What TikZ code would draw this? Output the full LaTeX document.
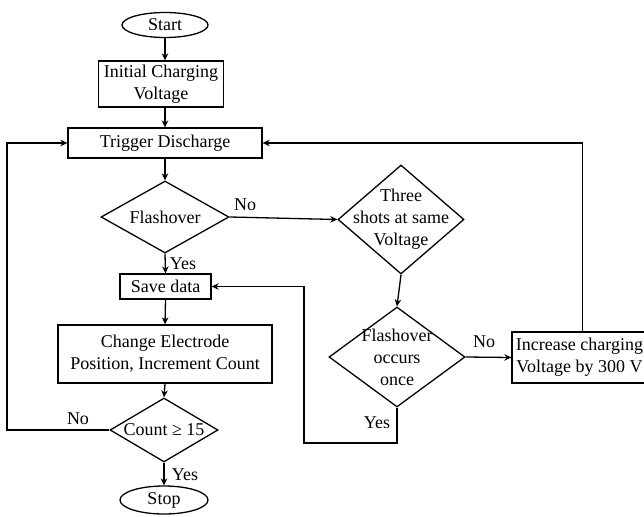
\documentclass[tikz,border=0pt]{standalone}
\usepackage{fontspec}
\setmainfont{Liberation Serif}
\usetikzlibrary{shapes.geometric,arrows.meta}
\begin{document}
\begin{tikzpicture}[x=1pt,y=-1pt, line width=1.3pt,
  every node/.style={font=\fontsize{18}{22}\selectfont, inner sep=0pt},
  boxn/.style={draw, rectangle, align=center},
  term/.style={draw, ellipse},
  dia/.style={draw, diamond},
  lbl/.style={align=center},
  arr/.style={-{Stealth[length=7pt,width=6.5pt]}}]
\clip (0,0) rectangle (644,516);
% nodes
\node[term, minimum width=86pt, minimum height=25pt] (start) at (165,25) {Start};
\node[boxn, minimum width=125pt, minimum height=46pt] (init) at (161,84) {Initial Charging\\Voltage};
\node[boxn, minimum width=194pt, minimum height=30pt] (trig) at (165,143) {Trigger Discharge};
\node[dia, minimum width=128pt, minimum height=72pt] (flash) at (165,217) {};
\node[lbl] (flashT) at (flash.center) {Flashover};
\node[dia, minimum width=126pt, minimum height=109pt] (three) at (401,219.5) {};
\node[lbl] (threeT) at (three.center) {Three\\shots at same\\Voltage};
\node[dia, minimum width=136pt, minimum height=100pt] (once) at (397,357) {};
\node[lbl] (onceT) at (once.center) {Flashover\\occurs\\once};
\node[boxn, minimum width=135pt, minimum height=51pt] (incr) at (579.5,357.5) {Increase charging\\Voltage by 300 V};
\node[boxn, minimum width=91pt, minimum height=25pt] (save) at (165.5,286.5) {Save data};
\node[boxn, minimum width=214pt, minimum height=58pt] (change) at (165,354) {Change Electrode\\Position, Increment Count};
\node[dia, minimum width=108pt, minimum height=64pt] (count) at (164,430) {};
\node[lbl] (countT) at (count.center) {Count ≥ 15};
\node[term, minimum width=88pt, minimum height=28pt] (stop) at (164,500) {Stop};
% labels
\node (l1) at (245,205) {No};
\node (l2) at (183,264) {Yes};
\node (l3) at (484,342) {No};
\node (l4) at (377,423) {Yes};
\node (l5) at (78,419) {No};
\node (l6) at (185,475) {Yes};
% helper coordinates
\coordinate (yb) at (304,443);
\coordinate (nl) at (7,430);
% connectors
\draw[arr] (start.south) -- (start.south |- init.north);
\draw[arr] (start.south |- init.south) -- (start.south |- trig.north);
\draw[arr] (trig.south) -- (flash.north);
\draw[arr] (flash.east) -- (three.west);
\draw[arr] (flash.south) -- (save.north);
\draw[arr] (three.south) -- (once.north);
\draw[arr] (once.east) -- (incr.west);
\draw[arr] ([xshift=3pt]incr.north) |- (trig.east);
\draw[arr] (once.south) |- (yb) |- (save.east);
\draw[arr] (save.south) -- (change.north);
\draw[arr] (change.south) -- (count.north);
\draw[arr] (count.south) -- (stop.north);
\draw[arr] (count.west) -- (nl) |- (trig.west);
\end{tikzpicture}
\end{document}
